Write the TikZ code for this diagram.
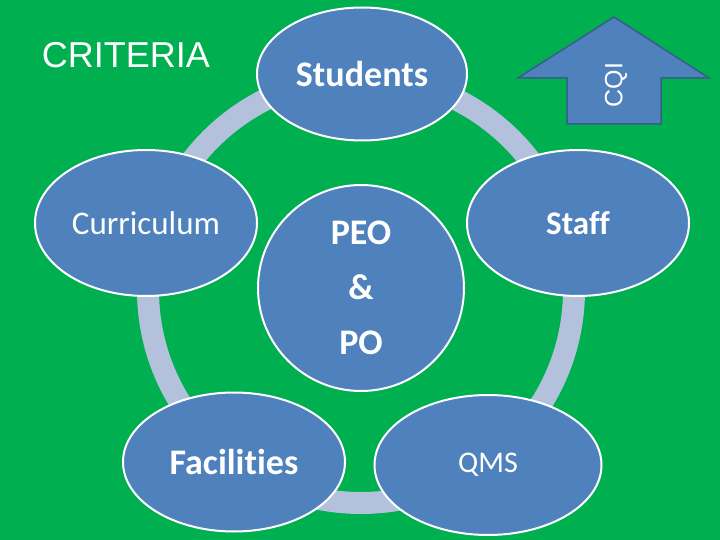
\documentclass[tikz,border=0pt]{standalone}
\usepackage{fontspec}
\setmainfont{Carlito}[Ligatures=CommonOff]
\newfontfamily\arialfont{Liberation Sans}
\usetikzlibrary{shapes, calc, positioning}
\definecolor{slidegreen}{HTML}{00B050}
\definecolor{bubbleblue}{HTML}{4F81BD}
\definecolor{bubbleedge}{HTML}{385D8A}
\definecolor{ringgrey}{HTML}{B4C1DD}

\begin{document}
\begin{tikzpicture}[x=1pt, y=-1pt]
        \fill [slidegreen] (0, 0) rectangle (720, 540);
        \useasboundingbox (0, 0) rectangle (720, 540);

        \coordinate (M) at (361, 290);

        \coordinate (S) at (362, 74);
        \coordinate (C) at (146, 223);
        \coordinate (T) at (578, 223);
        \coordinate (F) at (234, 462);
        \coordinate (Q) at (488, 465);

        % ring behind everything
        \draw [ringgrey, line width=22pt] (M) circle (213);

        \tikzstyle{b} = [draw=white, line width=2pt, ellipse, fill=bubbleblue,
            text=white, inner sep=0pt];
        \node [b, minimum width=210, minimum height=133, font=\fontsize{36}{43}\selectfont\bfseries]
            (stud) at (S) {Students};
        \node [b, minimum width=222, minimum height=146, font=\fontsize{33}{40}\selectfont]
            (curr) at (C) {Curriculum};
        \node [b, minimum width=222, minimum height=146, font=\fontsize{33}{40}\selectfont\bfseries]
            (staff) at (T) {Staff};
        \node [b, minimum width=222, minimum height=139, font=\fontsize{36}{43}\selectfont\bfseries]
            (fac) at (F) {Facilities};
        \node [b, minimum width=227, minimum height=140, font=\fontsize{30}{36}\selectfont]
            (qms) at (Q) {QMS};

        \node [b, circle, minimum size=206, align=center, font=\fontsize{36}{55}\selectfont\bfseries]
            (peo) at ($(M) + (0, -2)$) {PEO\\\&\\PO};

        % improvement arrow
        \coordinate (A) at (614, 17);
        \draw [bubbleedge, line width=1.5pt, fill=bubbleblue, line join=miter]
            (A) -- ($(A) + (95, 61)$) -- ($(A) + (47, 61)$) -- ($(A) + (47, 107)$)
            -- ($(A) + (-47, 107)$) -- ($(A) + (-47, 61)$) -- ($(A) + (-96, 61)$) -- cycle;
        \node [rotate=90, text=white, font=\arialfont\fontsize{25}{30}\selectfont]
            (cqi) at ($(A) + (2, 68)$) {CQI};

        \node [text=white, font=\arialfont\fontsize{36}{43}\selectfont]
            (crit) at (126, 55) {CRITERIA};
\end{tikzpicture}
\end{document}
